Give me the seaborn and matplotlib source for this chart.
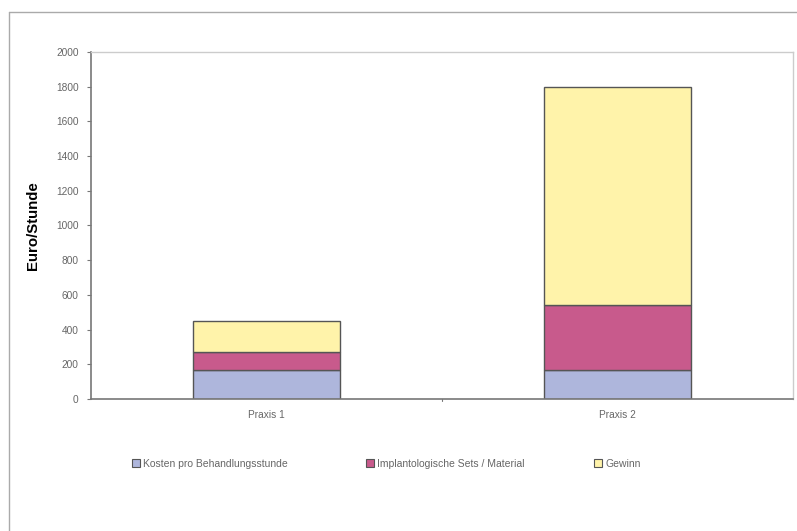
import matplotlib
matplotlib.use("Agg")
import matplotlib.pyplot as plt
from matplotlib.lines import Line2D
from matplotlib.patches import Patch
import seaborn as sns
import numpy as np
import pandas as pd

categories = ["Praxis 1", "Praxis 2"]
kosten = [170, 170]
implant = [100, 370]
gewinn = [180, 1260]
series_names = ["Kosten pro Behandlungsstunde", "Implantologische Sets / Material", "Gewinn"]
colors = ["#aeb6dc", "#c85a8c", "#fff3aa"]
yticks = list(range(0, 2001, 200))

sns.set_theme(style="white")
plt.rcParams['font.family'] = ['Liberation Sans', 'DejaVu Sans']

W, H = 797, 531
fig = plt.figure(figsize=(W / 100, H / 100), dpi=100)
ax = fig.add_axes([91 / W, 1 - 399 / H, (793 - 91) / W, (399 - 52) / H])

df = pd.DataFrame({"cat": categories, "k": kosten, "i": implant, "g": gewinn})
bottoms = np.zeros(len(categories))
for col, color in zip(["k", "i", "g"], colors):
    sns.barplot(data=df, x="cat", y=col, bottom=bottoms, color=color, width=0.42,
                edgecolor="#555555", linewidth=1.0, saturation=1, ax=ax)
    bottoms = bottoms + df[col].values

ax.set_xlim(-0.5, 1.5)
ax.set_ylim(0, 2000)
ax.set_yticks(yticks)
ax.set_yticklabels([str(t) for t in yticks], fontsize=7.3, color="#666666")
ax.set_xticks([0, 1])
ax.set_xticklabels(categories, fontsize=7.3, color="#666666")
ax.tick_params(axis="x", length=0, pad=8)
ax.tick_params(axis="y", direction="out", length=3, width=0.8, color="#777777", pad=6, left=True)
ax.set_xlabel("")
ax.set_ylabel("Euro/Stunde", fontsize=10.8, fontweight="bold", color="black")
ax.yaxis.set_label_coords(-0.072, 0.5)

for s in ["left", "bottom"]:
    ax.spines[s].set_color("#777777")
    ax.spines[s].set_linewidth(1.2)
for s in ["top", "right"]:
    ax.spines[s].set_color("#cccccc")
    ax.spines[s].set_linewidth(1.0)

# category boundary tick
ax.plot([0.5, 0.5], [0, -12], color="#777777", lw=0.8, clip_on=False)

# figure frame (cropped)
fig.add_artist(Line2D([9 / W, 1.0], [1 - 12 / H, 1 - 12 / H], color="#aaaaaa", lw=1.0))
fig.add_artist(Line2D([9 / W, 9 / W], [0, 1 - 12 / H], color="#aaaaaa", lw=1.0))

legend_x = [132, 366, 594]
for name, c, lx in zip(series_names, colors, legend_x):
    h = Patch(facecolor=c, edgecolor="#555555", linewidth=0.8)
    fig.legend([h], [name], loc="center left", bbox_to_anchor=(lx / W, 1 - 464 / H),
               frameon=False, fontsize=7.5, labelcolor="#666666",
               handlelength=0.8, handleheight=0.8, handletextpad=0.3,
               borderaxespad=0, borderpad=0)

fig.savefig("out.png", dpi=100)
